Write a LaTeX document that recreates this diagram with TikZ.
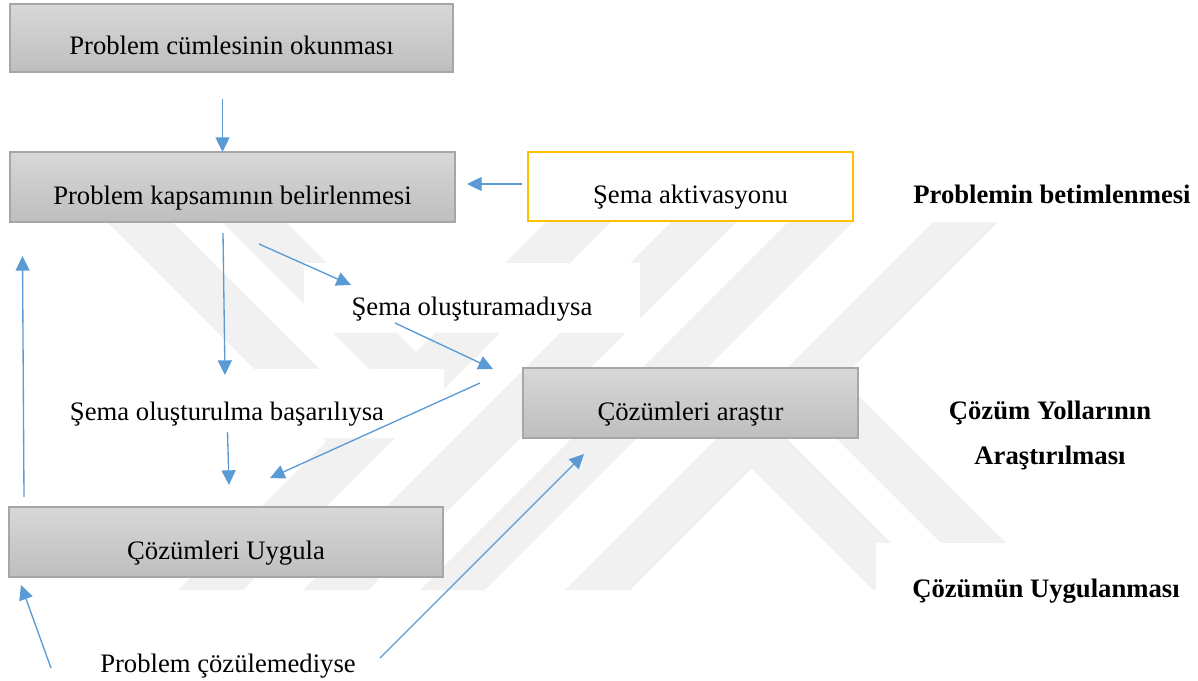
\documentclass[tikz,border=0pt]{standalone}
\usepackage{fontspec}
\setmainfont{Liberation Serif}
\usetikzlibrary{arrows.meta}
\definecolor{flowblue}{RGB}{91,155,213}
\definecolor{boxtop}{RGB}{216,216,216}
\definecolor{boxbottom}{RGB}{190,190,190}
\definecolor{boxline}{RGB}{166,166,166}
\definecolor{signyellow}{RGB}{255,192,0}
\definecolor{markgray}{RGB}{241,241,241}

\begin{document}
\begin{tikzpicture}[x=0.75pt,y=-0.75pt,
  every node/.style={font=\fontsize{20}{24}\selectfont, inner sep=0pt, outer sep=0pt},
  % text sits 17px below the middle of its box
  lowtext/.style={text height=25.5pt, text depth=0pt},
  stepbox/.style={rectangle, lowtext, draw=boxline, line width=1pt,
    top color=boxtop, bottom color=boxbottom},
  hintbox/.style={rectangle, lowtext, draw=signyellow, line width=1.6pt, fill=white},
  plainlabel/.style={rectangle, lowtext, fill=white},
  phase/.style={font=\fontsize{20}{33.75}\selectfont\bfseries, align=center},
  flow/.style={draw=flowblue, line width=1pt, -{Triangle[length=11pt,width=10.5pt]}}
]
\useasboundingbox (0,0) rectangle (1198,681);

% faint striped emblem in the background
\begin{scope}
  \clip (0,222) rectangle (1198,590);
  \fill[markgray] (546,222) -- (611,222) -- (243,590) -- (178,590) -- cycle;
  \fill[markgray] (671,222) -- (736,222) -- (368,590) -- (303,590) -- cycle;
  \fill[markgray] (788,222) -- (853,222) -- (485,590) -- (420,590) -- cycle;
  \fill[markgray] (933,222) -- (998,222) -- (630,590) -- (565,590) -- cycle;
  \fill[markgray] (107,222) -- (172,222) -- (375,425) -- (342.5,457.5) -- cycle;
  \fill[markgray] (222,222) -- (286,222) -- (432,368) -- (400,400) -- cycle;
  \fill[markgray] (769,421) -- (938,590) -- (873,590) -- (736.5,453.5) -- cycle;
  \fill[markgray] (826.5,363.5) -- (1053,590) -- (988,590) -- (794,396) -- cycle;
\end{scope}

% process steps
\node[stepbox, minimum width={443*0.75pt}, minimum height={68*0.75pt}] (read) at (231.5,38) {Problem cümlesinin okunması};
\node[stepbox, minimum width={445*0.75pt}, minimum height={70*0.75pt}] (scope) at (232.5,187) {Problem kapsamının belirlenmesi};
\node[hintbox, minimum width={325*0.75pt}, minimum height={69*0.75pt}] (schema) at (690.5,186.5) {Şema aktivasyonu};
\node[stepbox, minimum width={335*0.75pt}, minimum height={70*0.75pt}] (search) at (690.5,403) {Çözümleri araştır};
\node[stepbox, minimum width={434*0.75pt}, minimum height={70*0.75pt}] (apply) at (226,542) {Çözümleri Uygula};

% condition labels
\node[plainlabel, minimum width={336*0.75pt}, minimum height={70*0.75pt}] (fail) at (472,298) {Şema oluşturamadıysa};
\node[plainlabel, minimum width={434*0.75pt}, minimum height={69*0.75pt}] (ok) at (227,403.5) {Şema oluşturulma başarılıysa};
\node[anchor=base] (unsolved) at (228,672) {Problem çözülemediyse};

% phase names
\node[phase, anchor=base] (describe) at (1052,203) {Problemin betimlenmesi};
\node[phase, anchor=north] (explore) at (1050,401) {Çözüm Yollarının\\Araştırılması};
\node[plainlabel, phase, minimum width={340*0.75pt}, minimum height={74*0.75pt}] (carry) at (1046,580) {Çözümün Uygulanması};

% arrow end points
\coordinate (a1) at (222.5,99);   \coordinate (a2) at (222.5,152);
\coordinate (b1) at (522,184);    \coordinate (b2) at (467,184);
\coordinate (c1) at (223,233);    \coordinate (c2) at (225,375);
\coordinate (d1) at (259,244);    \coordinate (d2) at (351,285);
\coordinate (e1) at (395,323);    \coordinate (e2) at (493,369);
\coordinate (f1) at (480,383);    \coordinate (f2) at (270,478);
\coordinate (g1) at (227.5,432);  \coordinate (g2) at (229,485);
\coordinate (h1) at (24,497);     \coordinate (h2) at (22.5,256);
\coordinate (i1) at (51,668);     \coordinate (i2) at (21,585);
\coordinate (j1) at (380,658);    \coordinate (j2) at (584,454);

\draw[flow] (a1) -- (a2);
\draw[flow] (b1) -- (b2);
\draw[flow] (c1) -- (c2);
\draw[flow] (d1) -- (d2);
\draw[flow] (e1) -- (e2);
\draw[flow] (f1) -- (f2);
\draw[flow] (g1) -- (g2);
\draw[flow] (h1) -- (h2);
\draw[flow] (i1) -- (i2);
\draw[flow] (j1) -- (j2);
\end{tikzpicture}
\end{document}
